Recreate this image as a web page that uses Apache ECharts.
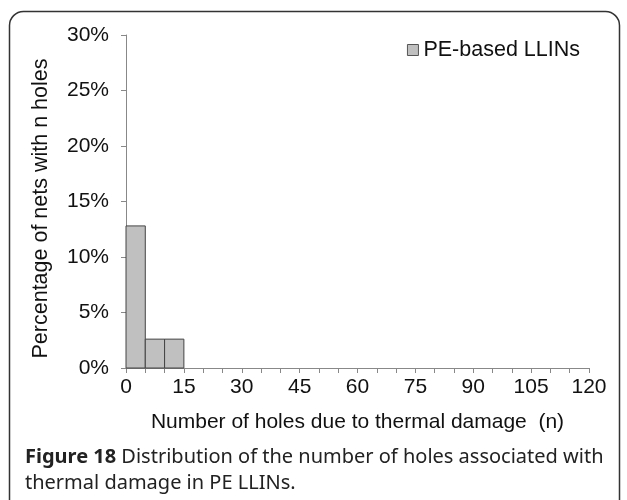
<!DOCTYPE html>
<html>
<head>
<meta charset="utf-8">
<script src="https://cdn.jsdelivr.net/npm/echarts@6/dist/echarts.min.js"></script>
<style>
  html, body { margin: 0; padding: 0; background: #fff; }
  #main { width: 627px; height: 500px; }
</style>
</head>
<body>
<div id="main"></div>
<script>
// histogram bins (number of holes) and share of nets in each
const binEdges = [[0, 5], [5, 10], [10, 15]];
const percentages = [12.8, 2.6, 2.6];
const seriesName = 'PE-based LLINs';
const xTicks = [0, 15, 30, 45, 60, 75, 90, 105, 120];
const yTicks = [0, 5, 10, 15, 20, 25, 30];

const chart = echarts.init(document.getElementById('main'));
const font = 'Liberation Sans, Arial, sans-serif';

const histData = binEdges.map((b, i) => [b[0], b[1], percentages[i]]);

chart.setOption({
  animation: false,
  grid: { left: 126, right: 38, top: 35, bottom: 132 },
  legend: {
    right: 42, top: 34,
    itemWidth: 11, itemHeight: 11, itemGap: 7,
    textStyle: { fontFamily: font, fontSize: 21.5, color: '#111' },
    data: [{ name: seriesName, icon: 'rect',
      itemStyle: { color: '#c0c0c0', borderColor: '#555', borderWidth: 1 } }]
  },
  xAxis: {
    type: 'value',
    min: xTicks[0], max: xTicks[xTicks.length - 1], interval: 15,
    name: 'Number of holes due to thermal damage  (n)',
    nameLocation: 'middle', nameGap: 44,
    nameTextStyle: { fontFamily: font, fontSize: 21, color: '#111' },
    axisLine: { lineStyle: { color: '#888', width: 1 } },
    axisTick: { show: true, length: 5, lineStyle: { color: '#888' } },
    minorTick: { show: true, splitNumber: 3, length: 5, lineStyle: { color: '#888' } },
    axisLabel: { fontFamily: font, fontSize: 21, color: '#111', margin: 9 },
    splitLine: { show: false }
  },
  yAxis: {
    type: 'value',
    min: yTicks[0], max: yTicks[yTicks.length - 1], interval: 5,
    name: 'Percentage of nets with n holes',
    nameLocation: 'middle', nameGap: 74,
    nameTextStyle: { fontFamily: font, fontSize: 21.5, color: '#111', padding: [0, 14, 0, 0] },
    axisLine: { show: true, lineStyle: { color: '#888', width: 1 } },
    axisTick: { show: true, length: 5, lineStyle: { color: '#888' } },
    axisLabel: { fontFamily: font, fontSize: 21, color: '#111', margin: 17, formatter: '{value}%' },
    splitLine: { show: false }
  },
  series: [{
    name: seriesName,
    type: 'custom',
    itemStyle: { color: '#c0c0c0' },
    encode: { x: [0, 1], y: 2 },
    renderItem: function (params, api) {
      const p0 = api.coord([api.value(0), api.value(2)]);
      const p1 = api.coord([api.value(1), 0]);
      return {
        type: 'rect',
        shape: { x: p0[0], y: p0[1], width: p1[0] - p0[0], height: p1[1] - p0[1] },
        style: { fill: '#c0c0c0', stroke: '#444', lineWidth: 1 }
      };
    },
    data: histData
  }],
  graphic: [
    {
      type: 'rect', z: 100, silent: true,
      shape: { x: 9.5, y: 11.5, width: 610, height: 520, r: 14 },
      style: { fill: 'none', stroke: '#333', lineWidth: 1.5 }
    },
    {
      type: 'text', left: 25, top: 444,
      style: {
        text: '{b|Figure 18} Distribution of the number of holes associated with\nthermal damage in PE LLINs.',
        fontFamily: 'Noto Sans, sans-serif', fontSize: 20, fill: '#222', lineHeight: 26,
        rich: { b: { fontWeight: 'bold', fontFamily: 'Noto Sans, sans-serif', fontSize: 20, fill: '#222' } }
      }
    }
  ]
});
</script>
</body>
</html>
